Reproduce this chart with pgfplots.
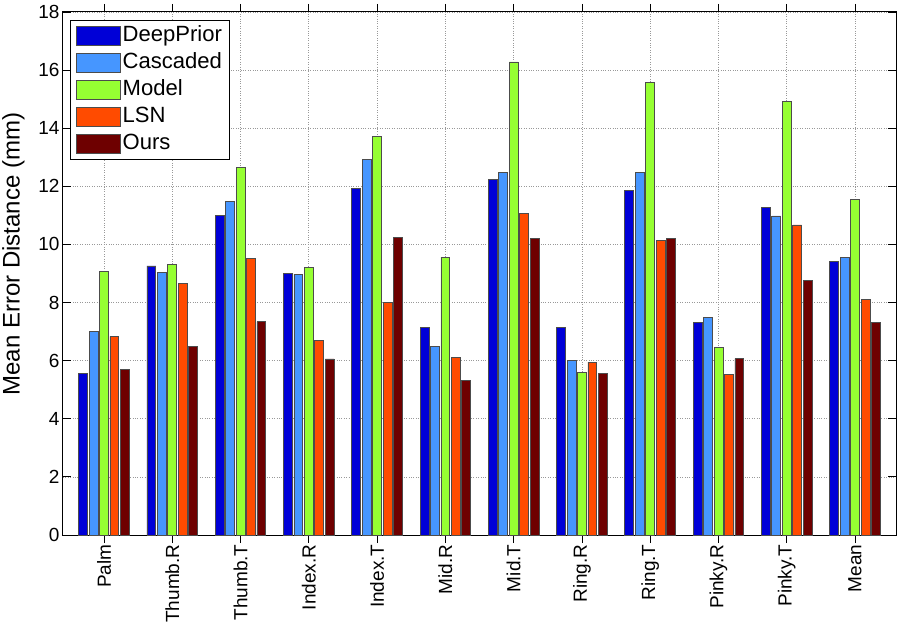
\documentclass[border=0pt]{standalone}
\usepackage{fontspec}
\setmainfont{Liberation Sans}
\usepackage{pgfplots}
\pgfplotsset{compat=1.18}
\definecolor{cDP}{RGB}{0,0,215}
\definecolor{cCA}{RGB}{70,150,255}
\definecolor{cMO}{RGB}{150,255,50}
\definecolor{cLS}{RGB}{255,75,0}
\definecolor{cOU}{RGB}{110,0,0}
\newcommand{\lt}[1]{\scalebox{0.735}{#1}}
\begin{document}
\begin{tikzpicture}
\begin{axis}[
  scale only axis,
  width=833pt, height=523pt,
  xmin=-0.6, xmax=11.6,
  ymin=0, ymax=18,
  ytick={0,2,...,18},
  xtick={0,...,11},
  xticklabels={Palm,Thumb.R,Thumb.T,Index.R,Index.T,Mid.R,Mid.T,Ring.R,Ring.T,Pinky.R,Pinky.T,Mean},
  xticklabel style={rotate=90, anchor=east, font=\fontsize{19}{21}\selectfont, xshift=2pt},
  yticklabel style={font=\fontsize{19}{21}\selectfont},
  /pgf/number format/assume math mode=true,
  ylabel={Mean Error Distance (mm)},
  ylabel style={font=\fontsize{24}{26}\selectfont, at={(axis description cs:-0.042,0.537)}, anchor=south},
  tick align=inside,
  major tick length=8pt,
  axis line style={line width=1pt},
  tick style={line width=0.8pt, black},
  grid=major,
  grid style={dotted, gray!80, line width=0.7pt},
  ybar,
  bar width=0.13,
  every axis plot/.append style={draw=black!70, line width=0.8pt},
  legend style={at={(axis description cs:0.0084,0.985)}, anchor=north west,
    draw=black, line width=0.8pt, inner xsep=6pt, inner ysep=3pt,
    font=\fontsize{30}{32}\selectfont, row sep=2pt,
    nodes={inner sep=1.5pt, text height=17pt, text depth=5pt}},
  legend cell align=left,
  legend image code/.code={\draw[#1] (0pt,-9.5pt) rectangle (44pt,9.5pt);},
]
\addplot[fill=cDP, bar shift=-0.306] coordinates {(0,5.55) (1,9.26) (2,11.01) (3,8.99) (4,11.92) (5,7.15) (6,12.25) (7,7.15) (8,11.87) (9,7.33) (10,11.28) (11,9.42)};
\addplot[fill=cCA, bar shift=-0.153] coordinates {(0,6.99) (1,9.03) (2,11.48) (3,8.98) (4,12.93) (5,6.49) (6,12.47) (7,6.00) (8,12.47) (9,7.48) (10,10.98) (11,9.56)};
\addplot[fill=cMO, bar shift=0] coordinates {(0,9.06) (1,9.30) (2,12.66) (3,9.20) (4,13.72) (5,9.56) (6,16.28) (7,5.59) (8,15.58) (9,6.44) (10,14.92) (11,11.55)};
\addplot[fill=cLS, bar shift=0.153] coordinates {(0,6.84) (1,8.65) (2,9.53) (3,6.69) (4,8.00) (5,6.11) (6,11.06) (7,5.95) (8,10.14) (9,5.53) (10,10.67) (11,8.10)};
\addplot[fill=cOU, bar shift=0.306] coordinates {(0,5.70) (1,6.48) (2,7.34) (3,6.06) (4,10.25) (5,5.33) (6,10.20) (7,5.56) (8,10.21) (9,6.07) (10,8.75) (11,7.31)};
\legend{\lt{DeepPrior},\lt{Cascaded},\lt{Model},\lt{LSN},\lt{Ours}}
\end{axis}
\pgfresetboundingbox
\path (-63pt,-88pt) rectangle (841pt,535pt);
\end{tikzpicture}
\end{document}
